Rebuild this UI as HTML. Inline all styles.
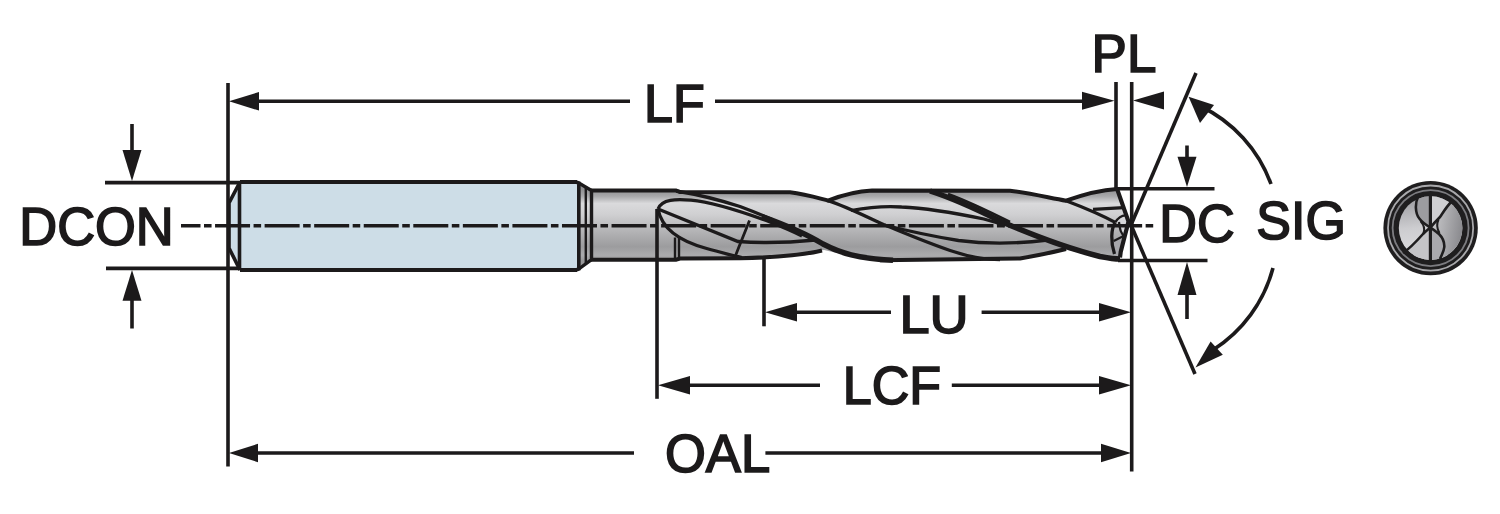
<!DOCTYPE html>
<html>
<head>
<meta charset="utf-8">
<style>
html,body{margin:0;padding:0;background:#fff;width:1500px;height:514px;overflow:hidden}
svg{display:block}
text{font-family:"Liberation Sans",sans-serif;font-size:53px;fill:#1c1a1b;stroke:#1c1a1b;stroke-width:1.7px}
</style>
</head>
<body>
<svg width="1500" height="514" viewBox="0 0 1500 514">
<defs>
  
  <linearGradient id="steelBody" gradientUnits="userSpaceOnUse" x1="0" y1="189" x2="0" y2="261">
    <stop offset="0" stop-color="#8e8e90"/>
    <stop offset="0.1" stop-color="#a8a8aa"/>
    <stop offset="0.2" stop-color="#dadadc"/>
    <stop offset="0.35" stop-color="#d0d0d2"/>
    <stop offset="0.55" stop-color="#b8b8ba"/>
    <stop offset="0.8" stop-color="#9c9c9e"/>
    <stop offset="0.92" stop-color="#ababad"/>
    <stop offset="1" stop-color="#98989a"/>
  </linearGradient>
  
  <linearGradient id="endL" x1="0.2" y1="0" x2="0.3" y2="1">
    <stop offset="0" stop-color="#9a9a9e"/>
    <stop offset="0.5" stop-color="#cdcdd0"/>
    <stop offset="1" stop-color="#e0e0e2"/>
  </linearGradient>
  <linearGradient id="endR" x1="0" y1="0" x2="1" y2="0.3">
    <stop offset="0" stop-color="#d4d4d6"/>
    <stop offset="1" stop-color="#8a8a8e"/>
  </linearGradient>
  <clipPath id="discClip"><circle cx="1430.6" cy="228.1" r="31.8"/></clipPath>
</defs>

<g fill="none" stroke="#1c1a1b" stroke-linecap="butt">
<!-- ============ SHANK ============ -->
<path d="M240,182 L578,182 L578.8,183 L578.8,269 L578,270 L240,270 L228,248 L228,203 Z" fill="#cddde7" stroke="none"/>
<!-- neck + body fill -->
<path d="M578.8,183 L591,190.5 L676,190.5 L680,192 L790,192.3 C805,194 818,198 828,200.6 C842,195 856,191 872,190.4 L1010,190.8 C1030,193 1050,198 1066,200.7 C1082,195 1100,190 1117,189 L1130,224 L1120,255 L1119,258.5 C1100,256 1080,252 1064,249.5 C1050,253 1035,256 1020,258.5 L880,260.3 C860,258 840,254 824,250 C800,256 770,257.5 740,258.3 L680,258.6 L676,259.7 L591,259.7 L578.8,269 Z" fill="url(#steelBody)" stroke="none"/>
<!-- tip facets -->
<path d="M1115.2,222.4 C1118,218 1121,215.5 1125.4,215.4 L1128.5,221.6 L1125,236.5 C1121,234 1120,230 1119,222 Z" fill="#d6d6d9" stroke="none"/>
<path d="M1113.7,241 L1126,234.8 L1120.7,252 L1120,257 L1114.5,254 C1112,250 1112,245 1113.7,241 Z" fill="#a7a7ab" stroke="none"/>

<!-- shank outline -->
<path d="M240,182 L577,182 M240,270 L577,270" stroke-width="4"/>
<path d="M240,182 L229,203 L229,248 L240,270" stroke-width="3.6"/>
<path d="M239.5,183 V268" stroke-width="3.6"/>
<!-- shank-neck transition -->
<path d="M576,182 L578.8,183 V269 L576,270" stroke-width="3.6"/>
<path d="M578.8,183 L591.5,190.5 V259.7 L578.8,269" stroke-width="3.4"/>
<path d="M585.8,187 V265" stroke-width="2.4"/>

<!-- top outline -->
<path d="M591,190.5 L676,190.5 L680,192 L790,192.3 C805,194 818,198 828,200.6 C842,195 856,191 872,190.4 L1010,190.8 C1030,193 1050,198 1066,200.7 C1082,195 1100,190 1117,189" stroke-width="4"/>
<!-- bottom outline pieces -->
<path d="M591,259.7 L676,259.7 L680,258.6 L740,258.3 C770,257.5 800,256 822,250.5" stroke-width="4"/>
<path d="M880,260.3 L1020,258.5 C1035,256 1050,253 1066,249" stroke-width="4"/>

<!-- flute run-out (lip) -->
<path d="M658,209 C662,199 676,199 691,200.2 C712,202 740,211 770,222 C780,226 790,230 802,236" stroke-width="3.3"/>
<path d="M658,209 C661,225 675,240 706.7,248.5 C720,252 730,255 742,257.5" stroke-width="3.3"/>
<path d="M658,209 L738,241.5 C765,243.5 795,242 816,240" stroke-width="3.3"/>
<path d="M749.5,220.5 C745,232 740,244 735,257" stroke-width="2.8"/>
<path d="M675,237.6 V259 M679,236 V258" stroke-width="2.4"/>

<!-- helix A -->
<path d="M676,191 C695,194 715,198.5 740,206.5 C752,211 762,215 772,219.5" stroke-width="3.3"/>
<path d="M762,216.5 C780,223 802,231 823,244 C840,253 858,258.5 893,260.3" stroke-width="5.5"/>

<!-- thin helix from V1 -->
<path d="M828,200.6 C845,206 865,216 884,224.7 C905,233 930,244 955,252 C970,257 985,259.5 1000,259.5" stroke-width="3.3"/>
<!-- upper lens -->
<path d="M851,210.5 C870,207 888,206 901.6,207 C925,208 955,213 983.8,219 C992,221 998,223 1005,226" stroke-width="3.3"/>
<!-- lower lens -->
<path d="M884,225 C900,229 925,235 958.5,240.5 C985,244 1020,243.5 1048,240" stroke-width="3.3"/>

<!-- helix B (thick) -->
<path d="M930,191 C955,199 980,211 1000,221 C1030,234 1070,249 1100,256.5 C1108,258 1114,259 1120,259" stroke-width="5.5"/>
<path d="M948,194 C970,202 990,212 1010,222" stroke-width="2.8"/>

<!-- near tip -->
<path d="M1066,200.7 C1080,206 1100,214 1115.2,222.4" stroke-width="3.3"/>
<path d="M1093,209.3 L1123.8,207.6" stroke-width="3.3"/>
<path d="M1116.8,188.1 L1128.5,221.6 L1120.7,252 L1120,257.6" stroke-width="4.2"/>
<path d="M1115.2,222.4 C1111,229 1110.5,242 1114.5,254" stroke-width="3.3"/>
<path d="M1115.2,222.4 C1118,218 1121,215.5 1125.4,215.4 M1119,222 C1120,230 1121,234 1125,236.5 M1113.7,241 L1126,234.8" stroke-width="2.2"/>

<!-- ============ CENTER LINE ============ -->
<path d="M181,225.8 H1153.5" stroke-width="3.6" stroke-dasharray="35 3.5 7.56 3.5" stroke-dashoffset="15.5"/>

<!-- ============ DIMENSIONS ============ -->
<!-- extension lines -->
<path d="M228,83 V466.5" stroke-width="3.6"/>
<path d="M1116,82 V190" stroke-width="3.6"/>
<path d="M1131.7,82 V471.5" stroke-width="3.6"/>
<path d="M657,209 V398.8" stroke-width="3.6"/>
<path d="M764,259 V326.3" stroke-width="3.6"/>
<!-- DCON -->
<path d="M105,182.6 H240" stroke-width="3.6"/>
<path d="M106,268.4 H240" stroke-width="3.6"/>
<path d="M132,124 V160 M132,300 V328.5" stroke-width="3.6"/>
<!-- DC -->
<path d="M1116,188.8 H1214.5" stroke-width="3.6"/>
<path d="M1118,260.5 H1207.5" stroke-width="3.6"/>
<path d="M1187,145.5 V165 M1187,290 V319" stroke-width="3.6"/>
<!-- LF line -->
<path d="M240,101.3 H630 M715,101.3 H1100" stroke-width="3.6"/>
<!-- PL -->

<!-- LU -->
<path d="M780,312.3 H891 M981.6,312.3 H1110" stroke-width="3.6"/>
<!-- LCF -->
<path d="M670,385.3 H820 M951.8,385.3 H1110" stroke-width="3.6"/>
<!-- OAL -->
<path d="M240,453 H634 M765.4,453 H1110" stroke-width="3.6"/>

<!-- SIG lines -->
<path d="M1131,225 L1196,73" stroke-width="3.6"/>
<path d="M1131,225 L1195,374" stroke-width="3.6"/>
<!-- SIG arcs -->
<path d="M1200,106 A139,139 0 0 1 1271,184" stroke-width="3.6"/>
<path d="M1273,268 A139,139 0 0 1 1213,350" stroke-width="3.6"/>
</g>

<!-- arrowheads -->
<g fill="#1c1a1b" stroke="none">
  <path d="M229,101.3 L259,92 L259,110.6 Z"/>
  <path d="M1114.5,100.8 L1082,91.8 L1082,109.8 Z"/>
  <path d="M1133,100.5 L1164,91.5 L1164,109.5 Z"/>
  <path d="M132,181 L122.5,150 L141.5,150 Z"/>
  <path d="M132,270 L122.5,300.8 L141.5,300.8 Z"/>
  <path d="M1187,187 L1177.5,156.7 L1196.5,156.7 Z"/>
  <path d="M1187,262 L1177.5,295 L1196.5,295 Z"/>
  <path d="M765,312.3 L797,303 L797,321.6 Z"/>
  <path d="M1131,312.3 L1099,303 L1099,321.6 Z"/>
  <path d="M658,385.3 L690,376 L690,394.6 Z"/>
  <path d="M1131,385.3 L1099,376 L1099,394.6 Z"/>
  <path d="M229,453 L258,443.8 L258,462.2 Z"/>
  <path d="M1131,453 L1101,443.8 L1101,462.2 Z"/>
  <path d="M1188.6,96.8 L1214,105 L1200,123 Z"/>
  <path d="M1195.5,367.5 L1210.6,341.5 L1222.8,354.8 Z"/>
</g>

<!-- ============ END VIEW ============ -->
<g>
  <circle cx="1430.6" cy="228.1" r="47.2" fill="#1f1e1f"/>
  <circle cx="1430.6" cy="228.1" r="42.6" fill="none" stroke="#a9a9ac" stroke-width="1.8"/>
  <circle cx="1430.6" cy="228.1" r="38" fill="none" stroke="#7c7c80" stroke-width="1.8"/>
  <circle cx="1430.6" cy="228.1" r="31.8" fill="url(#endL)"/>
  <g clip-path="url(#discClip)">
    <!-- top-middle (between left S and vertical) -->
    <path d="M1418,190 L1418,197.6 C1415,203 1415,213 1419.3,218.5 C1422,222 1426,225 1430.4,227.6 L1430.4,190 Z" fill="#9c9ca0"/>
    <!-- top-right (vertical to diagonal) -->
    <path d="M1430.4,190 V227.6 C1434,223 1437,220 1440,217 C1444,211 1447,206 1452,199 L1452,190 Z" fill="#cfcfd2"/>
    <!-- right big -->
    <path d="M1452,199 C1447,206 1444,211 1440,217 C1437,220 1434,223 1430.4,227.6 C1434,230 1437,232 1439,234 C1443,238 1444.5,243 1444.3,247 C1444,251 1442,254 1440,262 L1465,262 L1465,190 Z" fill="url(#endR)"/>
    <!-- bottom-middle -->
    <path d="M1430.4,227.6 C1434,230 1437,232 1439,234 C1443,238 1444.5,243 1444.3,247 C1444,251 1442,254 1440,262 L1430.4,262 Z" fill="#a9a9ad"/>
    <!-- bottom-left -->
    <path d="M1430.4,227.6 L1430.4,262 L1400,262 L1404,254 C1409,249 1415,243 1423,234 C1426,231 1428,229 1430.4,227.6 Z" fill="#c4c4c7"/>
  </g>
  <g stroke="#1f1e1f" fill="none">
    <path d="M1430.4,195 V262" stroke-width="3.2"/>
    <path d="M1418,197 C1415,203 1415,213 1419.3,218.5 C1422,222 1426,225 1430.4,227.6 C1434,230 1437,232 1439,234 C1443,238 1444.5,243 1444.3,247 C1444,251 1442,254 1440,259" stroke-width="2.6"/>
    <path d="M1452,201 C1447,206 1444,211 1440,217 C1437,220 1434,223 1430.4,227.6 C1428,229 1426,231 1423,234 C1415,243 1409,249 1403,253" stroke-width="2.6"/>
    <path d="M1420.5,221 C1424,225 1425,229 1423.5,233 M1438.5,219.5 C1436.5,224 1437,229 1439.5,233" stroke-width="2"/>
  </g>
</g>

<!-- ============ TEXT ============ -->
<text transform="translate(19.24,245.35) scale(0.9905,1)">DCON</text>
<text transform="translate(643.98,122.11) scale(0.9807,1)">LF</text>
<text transform="translate(1091.61,71.95) scale(0.9983,1)">PL</text>
<text transform="translate(1159.36,241.84) scale(0.9859,1)">DC</text>
<text transform="translate(1256.24,239.37) scale(0.9814,1)">SIG</text>
<text transform="translate(899.51,333.49) scale(1.0217,1)">LU</text>
<text transform="translate(842.77,404.47) scale(0.9821,1)">LCF</text>
<text transform="translate(665.02,472.36) scale(0.9913,1)">OAL</text>
</svg>
</body>
</html>
